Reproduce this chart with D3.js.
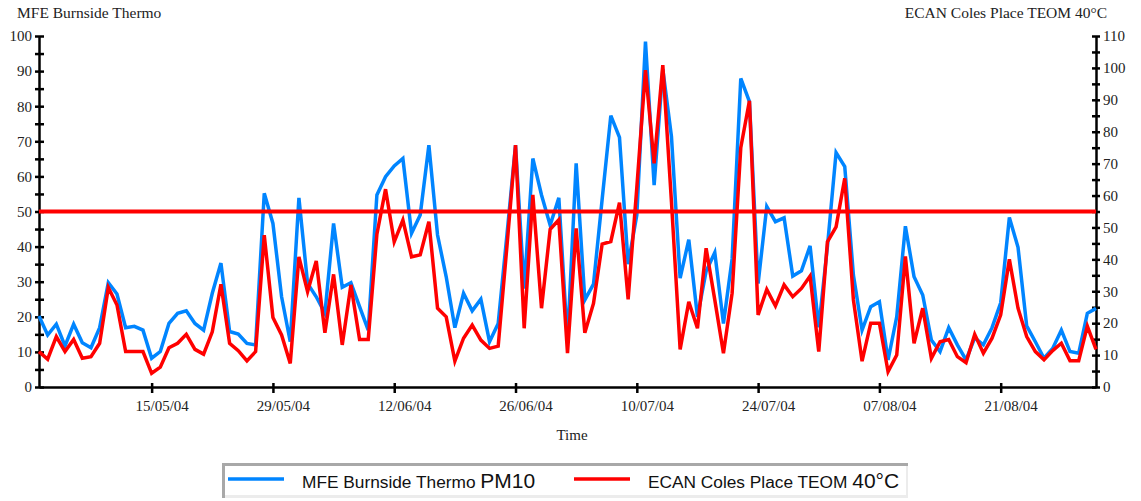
<!DOCTYPE html>
<html>
<head>
<meta charset="utf-8">
<script src="https://cdn.jsdelivr.net/npm/d3@7"></script>
<style>
body { margin:0; background:#fff; }
.tick text, .label { font-family:"Liberation Serif", "Times New Roman", serif; font-size:15px; fill:#222; }
.title { font-family:"Liberation Serif", "Times New Roman", serif; font-size:15.5px; fill:#222; }
.legend text { font-family:"Liberation Sans", Arial, sans-serif; fill:#111; }
</style>
</head>
<body>
<svg id="chart"></svg>
<script>
// first and last day of the daily series
var startDay = "02/05/04";
var endDay = "01/09/04";

// x axis tick labels
var dateTicks = ["15/05/04","29/05/04","12/06/04","26/06/04","10/07/04","24/07/04","07/08/04","21/08/04"];

// MFE Burnside Thermo PM10 (left axis)
var burnside = [20.2,14.8,17.9,11.7,17.9,12.6,11.2,16.9,29.7,26.5,
    16.9,17.3,16.2,8.2,10.1,18.1,21,21.7,18.1,16.2,
    26.7,35.3,15.8,15.1,12.4,12,55.2,46.6,25.7,12.9,
    53.9,29.5,25.7,21,46.6,28.4,29.7,22.9,16.2,54.7,
    59.9,63,65.1,43.8,49,68.9,43.3,31.4,16.9,26.7,
    21.7,25,12.9,18.1,43.1,68.9,28,65.1,54.7,46.1,
    53.9,13,63.7,24.8,29.3,53.5,77.3,71.1,35,49,
    98.4,57.5,90.5,71.3,31,42,20,33,38.3,18.1,
    36.5,87.9,81.3,29.5,51.4,47.1,48.2,31.6,33.1,40.2,
    17,40,66.8,62.8,31.9,16.2,22.9,24.3,7.7,20,
    45.8,31.4,26.2,13.4,10.1,16.9,12,7.7,14,12,
    16.9,24,48.3,39.8,17.4,12.9,8.2,11,16.2,10.1,
    9.6,21,22.4];

// ECAN Coles Place TEOM 40C (right axis)
var colesPlace = [11.1,8.7,15.8,11.1,14.9,9,9.5,13.7,31.2,25.7,
    11.1,11.1,11.1,4.3,6.2,12.3,13.7,16.5,11.8,10.3,
    17.3,32.2,13.7,11.4,8.2,11.1,47.6,21.8,16.3,7.4,
    40.8,29.9,39.5,17,35.3,13.2,32,14.9,14.9,47.9,
    62,45.5,52.3,40.8,41.4,51.8,24.7,22,8.1,15.3,
    19.4,14.7,12.1,12.8,43.8,75.8,18.4,60.2,24.7,49.4,
    52.4,10.6,49.7,17,26.2,44.8,45.6,57.8,27.5,62.5,
    99.3,70.1,100.9,58,11.8,26.7,18.4,43.5,27.3,10.6,
    29.4,75,89.7,22.6,30.6,25.4,32,28.3,30.9,34.8,
    11.1,45.5,50.2,65.4,27.3,8.1,20,20,4.8,10,
    40.9,13.7,24.7,9,14.2,14.9,9.5,7.6,16.5,10.6,
    15.3,22.6,40,24.7,15.8,11.1,8.5,11.4,13.7,8.2,
    8.2,19.1,11.8];

// guideline on the left axis
var limit = 50;

var leftTicks = d3.range(0, 101, 5);
var rightTicks = d3.range(0, 111, 5);

var parseDay = d3.timeParse("%d/%m/%y");

var screen = {width:1141, height:501};
var plot = {left:39, right:1096, top:36, bottom:387};

var svg = d3.select("#chart")
    .attr("width", screen.width)
    .attr("height", screen.height);

var days = d3.timeDay.range(parseDay(startDay), d3.timeDay.offset(parseDay(endDay), 1));

var xScale = d3.scaleTime()
    .domain([days[0], days[days.length-1]])
    .range([plot.left, plot.right]);

var yLeft = d3.scaleLinear().domain([0,100]).range([plot.bottom, plot.top]);
var yRight = d3.scaleLinear().domain([0,110]).range([plot.bottom, plot.top]);

// ticks cross the axis line, only every second one gets a label
var drawAxes = function()
{
    var xAxis = d3.axisBottom(xScale)
        .tickValues(dateTicks.map(parseDay))
        .tickFormat(d3.timeFormat("%d/%m/%y"))
        .tickSizeOuter(0);
    var gx = svg.append("g")
        .attr("transform", "translate(0," + plot.bottom + ")")
        .call(xAxis);
    gx.selectAll(".tick line").attr("y1", -4).attr("y2", 6);
    gx.selectAll(".tick text").attr("dx", 10).attr("y", 22).attr("dy", "0.1em");

    var yAxisL = d3.axisLeft(yLeft)
        .tickValues(leftTicks)
        .tickFormat(function(d){ return d % 10 == 0 ? d : ""; })
        .tickSizeOuter(0);
    var gl = svg.append("g")
        .attr("transform", "translate(" + plot.left + ",0)")
        .call(yAxisL);
    gl.selectAll(".tick line").attr("x1", 5).attr("x2", -4);
    gl.selectAll(".tick text").attr("x", -7);

    var yAxisR = d3.axisRight(yRight)
        .tickValues(rightTicks)
        .tickFormat(function(d){ return d % 10 == 0 ? d : ""; })
        .tickSizeOuter(0);
    var gr = svg.append("g")
        .attr("transform", "translate(" + plot.right + ",0)")
        .call(yAxisR);
    gr.selectAll(".tick line").attr("x1", -4).attr("x2", 4);
    gr.selectAll(".tick text").attr("x", 7);

    svg.selectAll(".domain").attr("stroke", "#000").attr("stroke-width", 2.5);
    svg.selectAll(".tick line").attr("stroke", "#000").attr("stroke-width", 2.5);
    svg.selectAll(".tick text").attr("fill", "#222");
}

var drawLines = function()
{
    var blueLine = d3.line()
        .x(function(d,i){ return xScale(days[i]); })
        .y(function(d){ return yLeft(d); });
    var redLine = d3.line()
        .x(function(d,i){ return xScale(days[i]); })
        .y(function(d){ return yRight(d); });

    svg.append("path")
        .datum(burnside)
        .attr("d", blueLine)
        .attr("fill", "none")
        .attr("stroke", "#0085ff")
        .attr("stroke-width", 3.5);

    svg.append("path")
        .datum(colesPlace)
        .attr("d", redLine)
        .attr("fill", "none")
        .attr("stroke", "#ff0000")
        .attr("stroke-width", 3.5);

    svg.append("line")
        .attr("x1", plot.left)
        .attr("x2", plot.right)
        .attr("y1", yLeft(limit))
        .attr("y2", yLeft(limit))
        .attr("stroke", "#ff0000")
        .attr("stroke-width", 4);
}

var drawLabels = function()
{
    svg.append("text").classed("title", true)
        .attr("x", 17).attr("y", 18)
        .text("MFE Burnside Thermo");
    svg.append("text").classed("title", true)
        .attr("x", 1107).attr("y", 18)
        .attr("text-anchor", "end")
        .text("ECAN Coles Place TEOM 40°C");
    svg.append("text").classed("label", true)
        .attr("x", 572).attr("y", 440)
        .attr("text-anchor", "middle")
        .text("Time");
}

var drawLegend = function()
{
    var legend = svg.append("g").classed("legend", true);
    legend.append("rect")
        .attr("x", 222).attr("y", 463)
        .attr("width", 686).attr("height", 35)
        .attr("fill", "#ececec");
    legend.append("rect")
        .attr("x", 225).attr("y", 466)
        .attr("width", 681).attr("height", 29)
        .attr("fill", "#fff");
    legend.append("path")
        .attr("d", "M223.5,498V464.5H908")
        .attr("fill", "none")
        .attr("stroke", "#a8a8a8")
        .attr("stroke-width", 3);

    var items = [
        {name:"MFE Burnside Thermo ", unit:"PM10", color:"#0085ff", x:228},
        {name:"ECAN Coles Place TEOM ", unit:"40°C", color:"#ff0000", x:574}
    ];
    items.forEach(function(item)
    {
        legend.append("line")
            .attr("x1", item.x).attr("x2", item.x + 56)
            .attr("y1", 479).attr("y2", 479)
            .attr("stroke", item.color)
            .attr("stroke-width", 3.5);
        var t = legend.append("text")
            .attr("x", item.x + 74).attr("y", 488);
        t.append("tspan").style("font-size", "17.3px").text(item.name);
        t.append("tspan").style("font-size", "21px").text(item.unit);
    });
}

drawAxes();
drawLines();
drawLabels();
drawLegend();
</script>
</body>
</html>
